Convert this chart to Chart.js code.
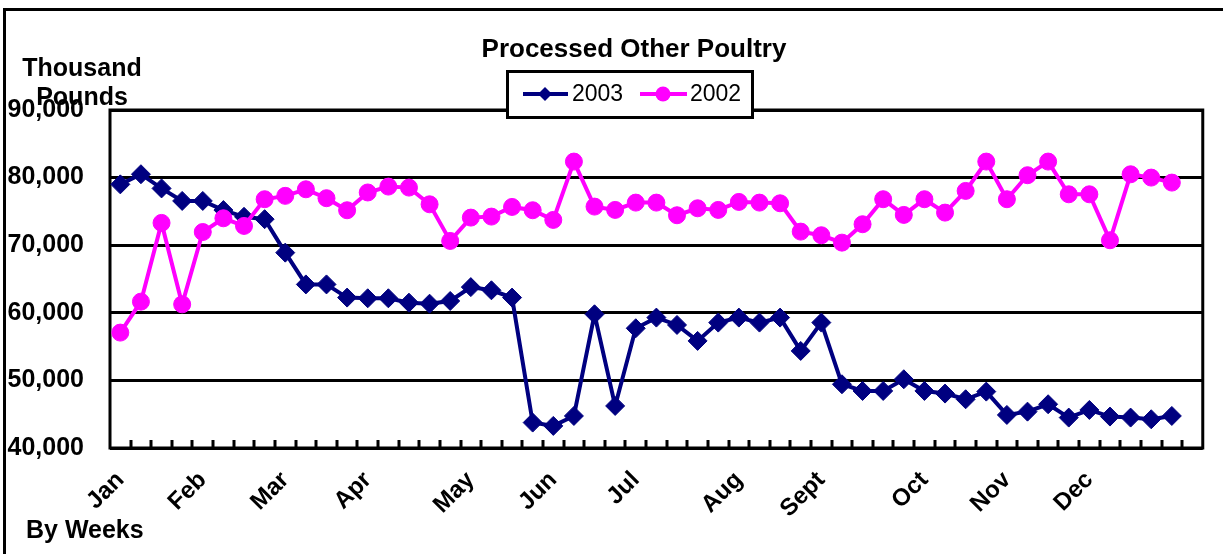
<!DOCTYPE html>
<html>
<head>
<meta charset="utf-8">
<script src="https://cdn.jsdelivr.net/npm/chart.js@4.4.1/dist/chart.umd.min.js"></script>
<style>
  html, body { margin: 0; padding: 0; background: #fff; }
  #wrap { width: 1223px; height: 554px; }
</style>
</head>
<body>
<div id="wrap"><canvas id="chart" width="1223" height="554"></canvas></div>
<script>
const FONT = "'Liberation Sans', Arial, sans-serif";

// month names sit on the week where each month starts
const monthNames = ["Jan", "Feb", "Mar", "Apr", "May", "Jun", "Jul", "Aug", "Sept", "Oct", "Nov", "Dec"];
const monthStartWeek = [0, 4, 8, 12, 17, 21, 25, 30, 34, 39, 43, 47];
const weekCount = 53;

// thousand pounds, one value per week
const series2003 = [
  79000, 80500, 78400, 76550, 76550, 75200, 74200, 73850, 68900, 64200,
  64200, 62250, 62150, 62150, 61500, 61350, 61750, 63800, 63330, 62250,
  43760, 43270, 44740, 59780, 46220, 57710, 59290, 58200, 55840, 58550,
  59290, 58550, 59290, 54360, 58550, 49430, 48440, 48440, 50170, 48440,
  48050, 47210, 48340, 44890, 45380, 46470, 44500, 45630, 44650, 44500,
  44250, 44740
];
const series2002 = [
  57070, 61650, 73300, 61250, 71950, 73980, 72850, 76800, 77300, 78270,
  76950, 75170, 77800, 78670, 78520, 76050, 70630, 74080, 74230, 75660,
  75170, 73740, 82370, 75710, 75220, 76300, 76300, 74430, 75460, 75220,
  76400, 76300, 76200, 72010, 71470, 70380, 73100, 76800, 74480, 76800,
  74820, 78030, 82370, 76800, 80350, 82370, 77530, 77530, 70730, 80490,
  80000, 79260
];
const yTicks = [40000, 50000, 60000, 70000, 80000, 90000];

const NAVY = "#000080";
const PINK = "#ff00ff";

const weekLabels = [];
for (let i = 0; i < weekCount; i++) weekLabels.push("");
monthStartWeek.forEach(function (w, k) { weekLabels[w] = monthNames[k]; });

const decor = {
  id: "decor",
  beforeDatasetsDraw(chart) {
    const { ctx, chartArea: a } = chart;
    const x = chart.scales.x;
    ctx.save();
    ctx.strokeStyle = "#000";
    ctx.lineWidth = 3;
    ctx.strokeRect(a.left, a.top, a.right - a.left, a.bottom - a.top);
    const half = (x.getPixelForValue(1) - x.getPixelForValue(0)) / 2;
    ctx.beginPath();
    for (let i = 1; i < weekLabels.length; i++) {
      const px = Math.round(x.getPixelForValue(i) - half);
      ctx.moveTo(px, a.bottom);
      ctx.lineTo(px, a.bottom - 8);
    }
    ctx.stroke();
    ctx.restore();
  },
  afterDraw(chart) {
    const ctx = chart.ctx;
    ctx.save();
    // outer frame
    ctx.strokeStyle = "#000";
    ctx.lineWidth = 3;
    ctx.strokeRect(4.5, 9.5, 1400, 700);

    ctx.fillStyle = "#000";
    ctx.font = "bold 26px " + FONT;
    ctx.textBaseline = "alphabetic";
    ctx.textAlign = "center";
    ctx.fillText("Processed Other Poultry", 634, 57);
    ctx.font = "bold 25px " + FONT;
    ctx.fillText("Thousand", 82, 76);
    ctx.fillText("Pounds", 82, 105);
    ctx.textAlign = "left";
    ctx.fillText("By Weeks", 26, 538);

    // legend
    ctx.fillStyle = "#fff";
    ctx.fillRect(507, 71, 245, 46);
    ctx.lineWidth = 3;
    ctx.strokeRect(507.5, 71.5, 245, 46);

    const ly = 94;
    ctx.lineWidth = 4;
    ctx.strokeStyle = NAVY;
    ctx.beginPath();
    ctx.moveTo(523, ly);
    ctx.lineTo(568, ly);
    ctx.stroke();
    ctx.fillStyle = NAVY;
    ctx.beginPath();
    ctx.moveTo(545, ly - 7);
    ctx.lineTo(552, ly);
    ctx.lineTo(545, ly + 7);
    ctx.lineTo(538, ly);
    ctx.closePath();
    ctx.fill();

    ctx.strokeStyle = PINK;
    ctx.beginPath();
    ctx.moveTo(640, ly);
    ctx.lineTo(687, ly);
    ctx.stroke();
    ctx.fillStyle = PINK;
    ctx.beginPath();
    ctx.arc(663, ly, 7.5, 0, Math.PI * 2);
    ctx.fill();

    ctx.fillStyle = "#000";
    ctx.font = "23px " + FONT;
    ctx.textBaseline = "middle";
    ctx.fillText("2003", 572, ly + 1);
    ctx.fillText("2002", 690, ly + 1);
    ctx.restore();
  }
};

new Chart(document.getElementById("chart"), {
  type: "line",
  data: {
    labels: weekLabels,
    datasets: [
      {
        label: "2003",
        data: series2003,
        borderColor: NAVY,
        backgroundColor: NAVY,
        borderWidth: 4,
        pointStyle: "rectRot",
        pointRadius: 9.5,
        pointBorderWidth: 1,
        pointBackgroundColor: NAVY,
        pointBorderColor: NAVY,
        tension: 0,
        order: 2
      },
      {
        label: "2002",
        data: series2002,
        borderColor: PINK,
        backgroundColor: PINK,
        borderWidth: 4,
        pointStyle: "circle",
        pointRadius: 8.5,
        pointBorderWidth: 1,
        pointBackgroundColor: PINK,
        pointBorderColor: PINK,
        tension: 0,
        order: 1
      }
    ]
  },
  options: {
    responsive: false,
    animation: false,
    layout: { padding: { top: 110, left: 0, right: 19, bottom: 0 } },
    plugins: {
      legend: { display: false },
      title: { display: false },
      tooltip: { enabled: false }
    },
    scales: {
      x: {
        type: "category",
        offset: true,
        grid: { display: false, offset: true },
        border: { display: false },
        afterFit: function (s) { s.height = 106; },
        ticks: {
          autoSkip: false,
          minRotation: 45,
          maxRotation: 45,
          padding: 10,
          color: "#000",
          font: { family: FONT, size: 24, weight: "bold" }
        }
      },
      y: {
        min: yTicks[0],
        max: yTicks[yTicks.length - 1],
        afterFit: function (s) { s.width = 110; },
        afterBuildTicks: function (s) {
          s.ticks = yTicks.map(function (v) { return { value: v }; });
        },
        grid: { color: "#000", lineWidth: 3, drawTicks: false },
        border: { display: false },
        ticks: {
          padding: 26,
          color: "#000",
          font: { family: FONT, size: 25, weight: "bold" },
          callback: function (v) { return v.toLocaleString("en-US"); }
        }
      }
    }
  },
  plugins: [decor]
});
</script>
</body>
</html>
